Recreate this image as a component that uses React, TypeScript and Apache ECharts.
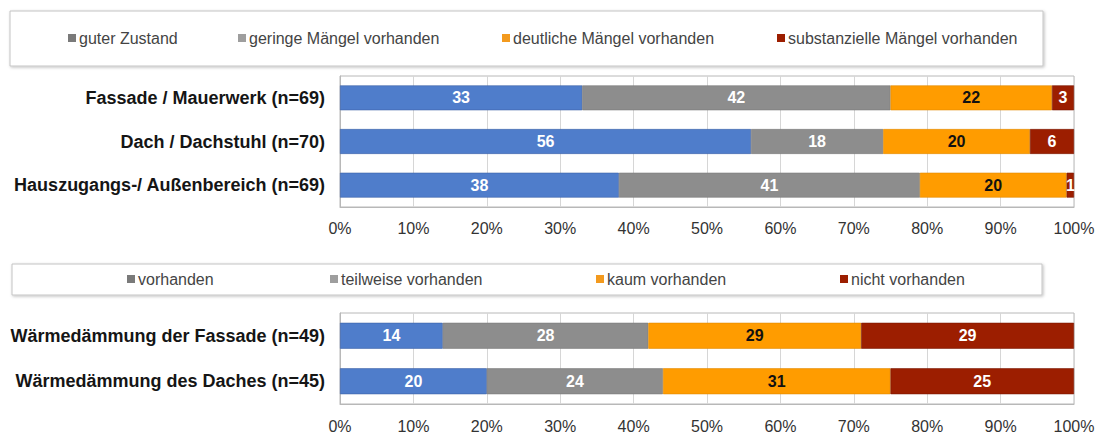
import React, { useEffect, useRef } from "react";
import * as echarts from "echarts";

const topCategories = [
  "Fassade / Mauerwerk (n=69)",
  "Dach / Dachstuhl (n=70)",
  "Hauszugangs-/ Außenbereich (n=69)",
];
const topNames = [
  "guter Zustand",
  "geringe Mängel vorhanden",
  "deutliche Mängel vorhanden",
  "substanzielle Mängel vorhanden",
];
const topGood = [33, 56, 38];
const topMinor = [42, 18, 41];
const topClear = [22, 20, 20];
const topSubst = [3, 6, 1];

const bottomCategories = [
  "Wärmedämmung der Fassade (n=49)",
  "Wärmedämmung des Daches (n=45)",
];
const bottomNames = ["vorhanden", "teilweise vorhanden", "kaum vorhanden", "nicht vorhanden"];
const bottomYes = [14, 20];
const bottomPartly = [28, 24];
const bottomHardly = [29, 31];
const bottomNo = [29, 25];

const xTicks = [0, 10, 20, 30, 40, 50, 60, 70, 80, 90, 100];

const FONT = "'Liberation Sans', Arial, Helvetica, sans-serif";
const COLORS = ["#4f7dcb", "#8d8d8d", "#ff9c00", "#9c1e00"];
const LEGEND_MARK = ["#7a7a7a", "#9e9e9e", "#f39a1e", "#9c1e00"];
const LABEL_COLORS = ["#ffffff", "#ffffff", "#111111", "#ffffff"];
const BORDER_COLORS = ["#3d62a6", "#7a7a7a", "#e08a00", "#7a1700"];

export default function App() {
  const ref = useRef<HTMLDivElement>(null);

  useEffect(() => {
    document.body.style.margin = "0";
    if (!ref.current) return;
    const chart = echarts.init(ref.current, undefined, { renderer: "svg" });

    const topSeriesData = [topGood, topMinor, topClear, topSubst];
    const bottomSeriesData = [bottomYes, bottomPartly, bottomHardly, bottomNo];

    const mkSeries = (names: string[], datas: number[][], idx: number, stack: string) =>
      names.map((name, i) => ({
        type: "bar",
        name,
        stack,
        xAxisIndex: idx,
        yAxisIndex: idx,
        barWidth: "57%",
        data: datas[i],
        itemStyle: { color: COLORS[i], borderColor: BORDER_COLORS[i], borderWidth: 0.6 },
        label: {
          show: true,
          position: "inside",
          color: LABEL_COLORS[i],
          fontFamily: FONT,
          fontWeight: "bold",
          fontSize: 16,
          formatter: "{c}",
        },
      }));

    const topLegendX = [68, 238, 502, 777];
    const bottomLegendX = [127, 330, 596, 840];

    const mkLegends = (names: string[], xs: number[], top: number) =>
      names.map((name, i) => ({
        left: xs[i],
        top,
        padding: 0,
        itemWidth: 8,
        itemHeight: 8,
        itemGap: 4,
        icon: "rect",
        selectedMode: false,
        data: [{ name, itemStyle: { color: LEGEND_MARK[i], borderWidth: 0 } }],
        textStyle: { fontFamily: FONT, fontSize: 16, color: "#444", lineHeight: 18, padding: [0, 0, 0, -2] },
      }));

    const xAxisCommon = {
      type: "value",
      min: 0,
      max: 100,
      interval: 10,
      axisLine: { show: true, lineStyle: { color: "#b8b8b8" } },
      axisTick: { show: false },
      splitLine: { show: true, lineStyle: { color: "#d6d6d6", width: 1 } },
      axisLabel: {
        formatter: (v: number) => (xTicks.includes(v) ? `${v}%` : ""),
        fontFamily: FONT,
        fontSize: 16,
        color: "#333",
      },
    };

    const yAxisCommon = {
      type: "category",
      inverse: true,
      axisLine: { show: true, lineStyle: { color: "#b8b8b8" } },
      axisTick: { show: false },
      axisLabel: {
        fontFamily: FONT,
        fontSize: 18,
        fontWeight: "bold",
        color: "#151515",
        margin: 15,
      },
    };

    chart.setOption({
      animation: false,
      backgroundColor: "#ffffff",
      graphic: [
        {
          type: "rect",
          z: 0,
          shape: { x: 10, y: 11, width: 1033, height: 55 },
          style: {
            fill: "#ffffff",
            stroke: "#c4c4c4",
            lineWidth: 1,
            shadowBlur: 3,
            shadowOffsetX: 1,
            shadowOffsetY: 1,
            shadowColor: "rgba(0,0,0,0.25)",
          },
        },
        {
          type: "rect",
          z: 0,
          shape: { x: 12, y: 264, width: 1030, height: 31 },
          style: {
            fill: "#ffffff",
            stroke: "#c4c4c4",
            lineWidth: 1,
            shadowBlur: 3,
            shadowOffsetX: 1,
            shadowOffsetY: 1,
            shadowColor: "rgba(0,0,0,0.25)",
          },
        },
      ],
      legend: [...mkLegends(topNames, topLegendX, 29), ...mkLegends(bottomNames, bottomLegendX, 270)],
      grid: [
        { left: 340, right: 25, top: 76, height: 131, show: true, borderColor: "#b8b8b8", borderWidth: 1, backgroundColor: "transparent" },
        { left: 340, right: 25, top: 313, height: 92, show: true, borderColor: "#b8b8b8", borderWidth: 1, backgroundColor: "transparent" },
      ],
      xAxis: [
        { ...xAxisCommon, gridIndex: 0, axisLabel: { ...xAxisCommon.axisLabel, margin: 13 } },
        { ...xAxisCommon, gridIndex: 1, axisLabel: { ...xAxisCommon.axisLabel, margin: 14 } },
      ],
      yAxis: [
        { ...yAxisCommon, gridIndex: 0, data: topCategories },
        { ...yAxisCommon, gridIndex: 1, data: bottomCategories },
      ],
      series: [
        ...mkSeries(topNames, topSeriesData, 0, "top"),
        ...mkSeries(bottomNames, bottomSeriesData, 1, "bottom"),
      ],
    });

    return () => chart.dispose();
  }, []);

  return <div ref={ref} style={{ width: 1099, height: 434 }} />;
}
